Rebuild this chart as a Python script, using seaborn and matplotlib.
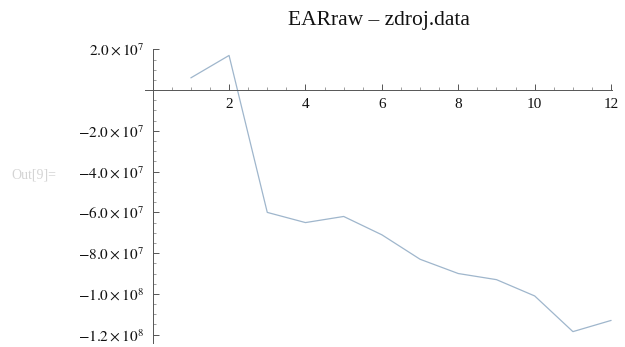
import numpy as np
import pandas as pd
import matplotlib
matplotlib.use("Agg")
import matplotlib.pyplot as plt
import seaborn as sns
from matplotlib.ticker import FixedLocator, MultipleLocator, FuncFormatter

# EARraw series read from zdroj.data
index = [1, 2, 3, 4, 5, 6, 7, 8, 9, 10, 11, 12]
ear_raw = [6.0e6, 1.7e7, -6.0e7, -6.5e7, -6.2e7, -7.1e7, -8.3e7, -9.0e7,
           -9.3e7, -1.01e8, -1.185e8, -1.13e8]

x_ticks = [2, 4, 6, 8, 10, 12]
y_ticks = [2.0e7, -2.0e7, -4.0e7, -6.0e7, -8.0e7, -1.0e8, -1.2e8]

title = "EARraw – zdroj.data"
out_label = "Out[9]="

sns.set_theme(style="white")
plt.rcParams["font.family"] = ["Liberation Serif", "DejaVu Serif"]
plt.rcParams["mathtext.fontset"] = "stix"

df = pd.DataFrame({"index": index, "EARraw": ear_raw})

fig = plt.figure(figsize=(6.25, 3.47), dpi=100)
ax = fig.add_axes([0.232, 0.012, 0.747, 0.847])

sns.lineplot(data=df, x="index", y="EARraw", ax=ax, color="#9fb6cc",
             linewidth=0.9)

ax.set_xlim(-0.2, 12.02)
ax.set_ylim(-1.24e8, 2.02e7)

# axes crossing at the origin
for side in ("top", "right"):
    ax.spines[side].set_visible(False)
ax.spines["left"].set_position(("data", 0))
ax.spines["bottom"].set_position(("data", 0))
for side in ("left", "bottom"):
    ax.spines[side].set_color("#555555")
    ax.spines[side].set_linewidth(0.7)

ax.xaxis.set_major_locator(FixedLocator(x_ticks))
ax.xaxis.set_minor_locator(MultipleLocator(0.5))
ax.yaxis.set_major_locator(FixedLocator(y_ticks))
ax.yaxis.set_minor_locator(MultipleLocator(5e6))


def sci_label(v, pos):
    if v == 0:
        return ""
    exp = int(np.floor(np.log10(abs(v))))
    mant = v / 10 ** exp
    return r"$%.1f\times10^{%d}$" % (mant, exp)


ax.yaxis.set_major_formatter(FuncFormatter(sci_label))
ax.xaxis.set_major_formatter(FuncFormatter(lambda v, p: "%d" % v))

ax.tick_params(axis="both", which="major", direction="in", length=4,
               width=0.7, color="#555555", labelsize=11, labelcolor="#111111")
ax.tick_params(axis="both", which="minor", direction="in", length=2,
               width=0.5, color="#777777")
ax.tick_params(axis="x", which="major", pad=6)
ax.tick_params(axis="y", which="major", pad=6)
ax.tick_params(axis="x", which="both", bottom=True, top=False)
ax.tick_params(axis="y", which="both", left=True, right=False)

ax.set_xlabel("")
ax.set_ylabel("")
ax.set_title(title, fontsize=15.5, pad=17, color="#111111")

fig.text(0.018, 0.495, out_label, fontsize=10, color="#d4d4d4",
         ha="left", va="center")

fig.savefig("out.png", dpi=100)
